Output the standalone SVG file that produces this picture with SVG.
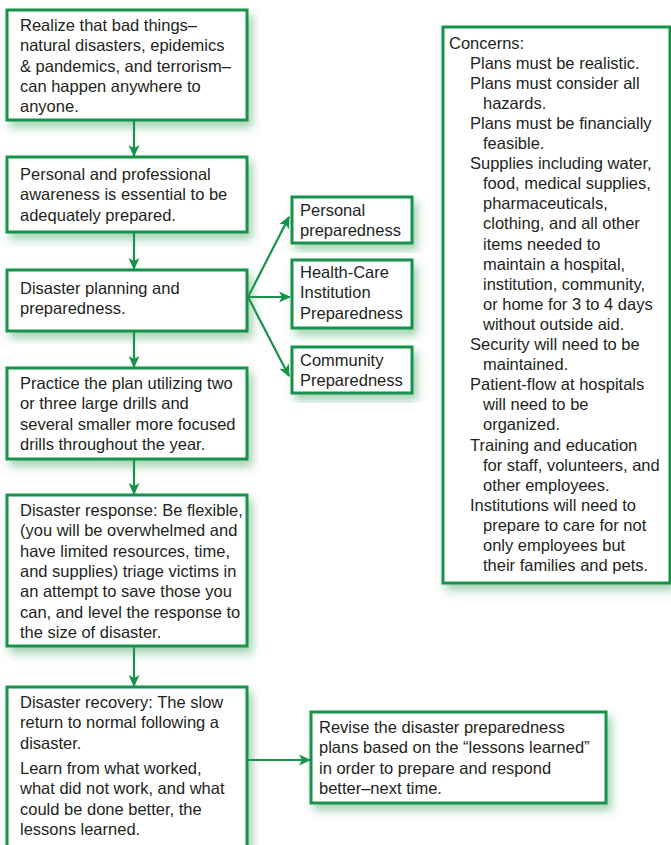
<svg xmlns="http://www.w3.org/2000/svg" width="671" height="845" viewBox="0 0 671 845">
<style>
.box{fill:#fff;stroke:#17924a;stroke-width:3;filter:url(#sh)}
.t{font-family:"Liberation Sans",Arial,sans-serif;font-size:16.5px;fill:#231f20}
.c{fill:none;stroke:#17924a;stroke-width:2.2}
</style>
<defs>
<filter id="sh" x="-20%" y="-20%" width="140%" height="140%">
<feDropShadow dx="4" dy="6" stdDeviation="5" flood-color="#2a9a55" flood-opacity="0.45"/>
</filter>
<marker id="ah" viewBox="0 0 12 12" refX="11" refY="6" markerWidth="12" markerHeight="12" markerUnits="userSpaceOnUse" orient="auto">
<path d="M0,0.5 L12,6 L0,11.5 L3,6 z" fill="#17924a"/>
</marker>
</defs>
<rect width="671" height="845" fill="#fff"/>
<g id="connectors">
<line class="c" x1="134" y1="121" x2="134" y2="156" marker-end="url(#ah)"/>
<line class="c" x1="134" y1="233" x2="134" y2="269" marker-end="url(#ah)"/>
<line class="c" x1="134" y1="332" x2="134" y2="367" marker-end="url(#ah)"/>
<line class="c" x1="134" y1="460" x2="134" y2="494" marker-end="url(#ah)"/>
<line class="c" x1="134" y1="647" x2="134" y2="686" marker-end="url(#ah)"/>
<line class="c" x1="248" y1="297" x2="289" y2="217" marker-end="url(#ah)"/>
<line class="c" x1="248" y1="297" x2="290" y2="297" marker-end="url(#ah)"/>
<line class="c" x1="248" y1="297" x2="289" y2="376" marker-end="url(#ah)"/>
<line class="c" x1="248" y1="760" x2="310" y2="760" marker-end="url(#ah)"/>
</g>
<g id="n1">
<rect class="box" x="7" y="10" width="240" height="110"/>
<text class="t" x="20"><tspan y="31">Realize that bad things–</tspan><tspan x="20" y="51.3">natural disasters, epidemics</tspan><tspan x="20" y="71.6">&amp; pandemics, and terrorism–</tspan><tspan x="20" y="92">can happen anywhere to</tspan><tspan x="20" y="112.3">anyone.</tspan></text>
</g>
<g id="n2">
<rect class="box" x="7" y="157" width="240" height="75"/>
<text class="t" x="20"><tspan y="180">Personal and professional</tspan><tspan x="20" y="200.3">awareness is essential to be</tspan><tspan x="20" y="220.6">adequately prepared.</tspan></text>
</g>
<g id="n3">
<rect class="box" x="7" y="270" width="240" height="61"/>
<text class="t" x="20"><tspan y="294">Disaster planning and</tspan><tspan x="20" y="314.3">preparedness.</tspan></text>
</g>
<g id="n4">
<rect class="box" x="7" y="368" width="240" height="91"/>
<text class="t" x="20"><tspan y="389">Practice the plan utilizing two</tspan><tspan x="20" y="409.3">or three large drills and</tspan><tspan x="20" y="429.6">several smaller more focused</tspan><tspan x="20" y="450">drills throughout the year.</tspan></text>
</g>
<g id="n5">
<rect class="box" x="7" y="495" width="240" height="151"/>
<text class="t" x="20"><tspan y="516">Disaster response: Be flexible,</tspan><tspan x="20" y="536.3">(you will be overwhelmed and</tspan><tspan x="20" y="556.6">have limited resources, time,</tspan><tspan x="20" y="577">and supplies) triage victims in</tspan><tspan x="20" y="597.3">an attempt to save those you</tspan><tspan x="20" y="617.6">can, and level the response to</tspan><tspan x="20" y="638">the size of disaster.</tspan></text>
</g>
<g id="n6">
<rect class="box" x="7" y="687" width="240" height="170"/>
<text class="t" x="20"><tspan y="708">Disaster recovery: The slow</tspan><tspan x="20" y="728.3">return to normal following a</tspan><tspan x="20" y="748.6">disaster.</tspan><tspan x="20" y="774">Learn from what worked,</tspan><tspan x="20" y="794.3">what did not work, and what</tspan><tspan x="20" y="814.6">could be done better, the</tspan><tspan x="20" y="835">lessons learned.</tspan></text>
</g>
<g id="p1">
<rect class="box" x="292" y="197" width="120" height="46"/>
<text class="t" x="300"><tspan y="216">Personal</tspan><tspan x="300" y="236.3">preparedness</tspan></text>
</g>
<g id="p2">
<rect class="box" x="292" y="260" width="120" height="68"/>
<text class="t" x="300"><tspan y="278">Health-Care</tspan><tspan x="300" y="298.3">Institution</tspan><tspan x="300" y="318.6">Preparedness</tspan></text>
</g>
<g id="p3">
<rect class="box" x="292" y="347" width="120" height="46"/>
<text class="t" x="300"><tspan y="366">Community</tspan><tspan x="300" y="386.3">Preparedness</tspan></text>
</g>
<g id="concerns">
<rect class="box" x="443" y="27" width="227" height="556"/>
<text class="t"><tspan x="449" y="48.5">Concerns:</tspan>
<tspan x="470" y="68.6">Plans must be realistic.</tspan>
<tspan x="470" y="88.7">Plans must consider all</tspan>
<tspan x="483" y="108.8">hazards.</tspan>
<tspan x="470" y="128.9">Plans must be financially</tspan>
<tspan x="483" y="149">feasible.</tspan>
<tspan x="470" y="169.1">Supplies including water,</tspan>
<tspan x="483" y="189.2">food, medical supplies,</tspan>
<tspan x="483" y="209.3">pharmaceuticals,</tspan>
<tspan x="483" y="229.4">clothing, and all other</tspan>
<tspan x="483" y="249.5">items needed to</tspan>
<tspan x="483" y="269.6">maintain a hospital,</tspan>
<tspan x="483" y="289.7">institution, community,</tspan>
<tspan x="483" y="309.8">or home for 3 to 4 days</tspan>
<tspan x="483" y="329.9">without outside aid.</tspan>
<tspan x="470" y="350">Security will need to be</tspan>
<tspan x="483" y="370.1">maintained.</tspan>
<tspan x="470" y="390.2">Patient-flow at hospitals</tspan>
<tspan x="483" y="410.3">will need to be</tspan>
<tspan x="483" y="430.4">organized.</tspan>
<tspan x="470" y="450.5">Training and education</tspan>
<tspan x="483" y="470.6">for staff, volunteers, and</tspan>
<tspan x="483" y="490.7">other employees.</tspan>
<tspan x="470" y="510.8">Institutions will need to</tspan>
<tspan x="483" y="530.9">prepare to care for not</tspan>
<tspan x="483" y="551">only employees but</tspan>
<tspan x="483" y="571.1">their families and pets.</tspan></text>
</g>
<g id="revise">
<rect class="box" x="311" y="712" width="295" height="91"/>
<text class="t" x="319"><tspan y="733">Revise the disaster preparedness</tspan><tspan x="319" y="753.3">plans based on the “lessons learned”</tspan><tspan x="319" y="773.6">in order to prepare and respond</tspan><tspan x="319" y="794">better–next time.</tspan></text>
</g>
</svg>
